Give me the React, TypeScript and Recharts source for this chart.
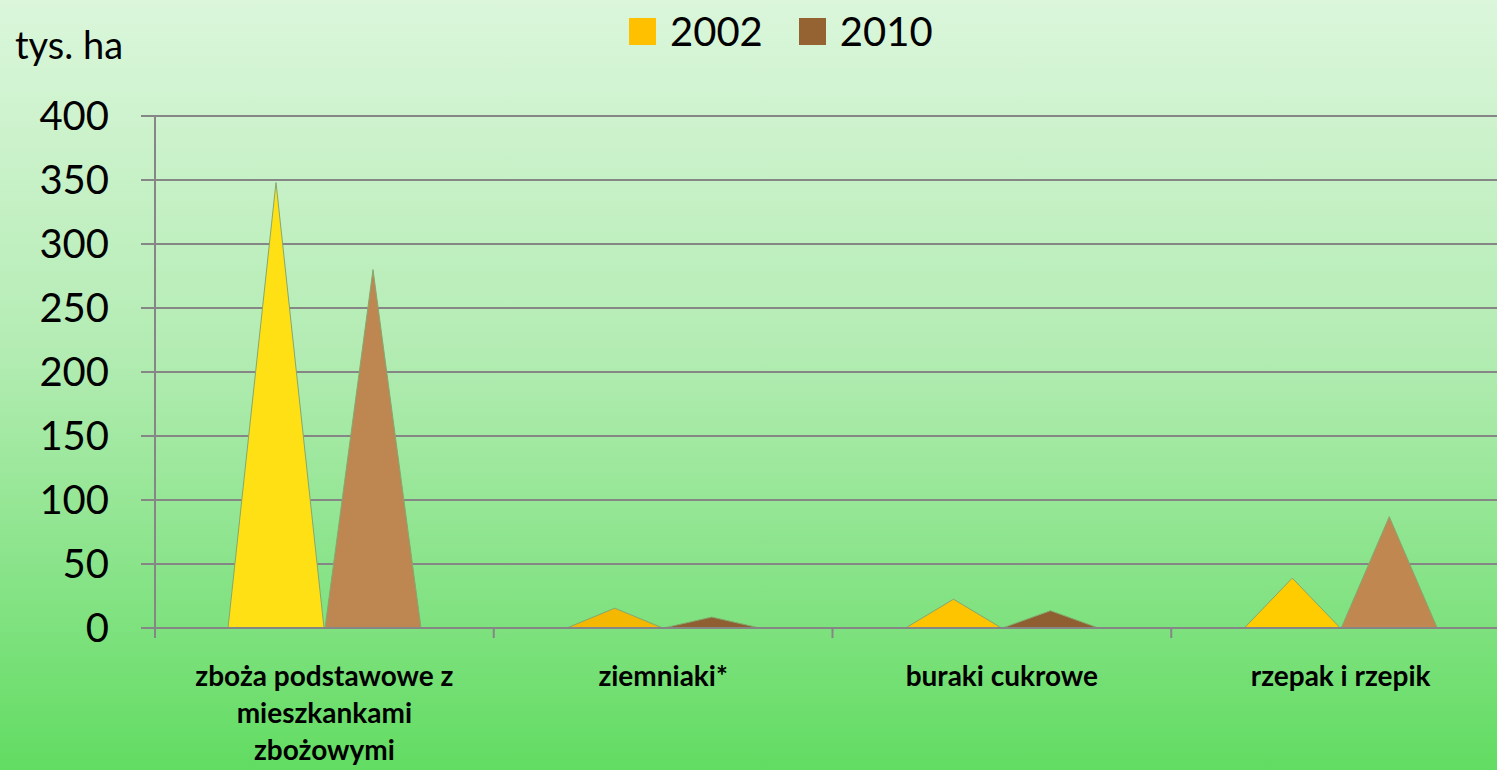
import { BarChart, Bar, XAxis, YAxis, CartesianGrid, Cell } from 'recharts'

const categories = ['zboża podstawowe z\nmieszkankami\nzbożowymi', 'ziemniaki*', 'buraki cukrowe', 'rzepak i rzepik']
const values2002 = [348, 15.5, 22.5, 39]
const values2010 = [280, 8.5, 13.5, 87]
const colors2002 = ['#FFE014', '#F5B800', '#FFC400', '#FFCC00']
const colors2010 = ['#BE8650', '#8F5F31', '#8F5F31', '#C08850']
const yTicks = [0, 50, 100, 150, 200, 250, 300, 350, 400]
const seriesNames = ['2002', '2010']
const legendColors = ['#FFC000', '#956232']

const data = categories.map((name, i) => ({ name, y2002: values2002[i], y2010: values2010[i] }))

const CHART_W = 1510
const CHART_H = 770
const AXIS_W = 155
const TOP = 116
const X_AXIS_H = 142
const AXIS_Y = CHART_H - X_AXIS_H
const BAND = (CHART_W - AXIS_W) / categories.length
const GRID = '#868686'

function Triangle(props: any) {
  const { x, y, width, height, fill } = props
  if (!height) return null
  const d = `M${x},${y + height} L${x + width / 2},${y} L${x + width},${y + height} Z`
  return <path d={d} fill={fill} stroke="#84a86e" strokeWidth={1} />
}

function CategoryTick(props: any) {
  const { x, payload } = props
  const left = x - BAND / 2
  const lines = String(payload.value).split('\n')
  return (
    <g>
      <line x1={left} y1={AXIS_Y} x2={left} y2={AXIS_Y + 10} stroke={GRID} strokeWidth={2} />
      <text
        x={x}
        y={AXIS_Y + 58}
        textAnchor="middle"
        style={{ fontFamily: 'Lato', fontWeight: 700, fontSize: 28, fill: '#000' }}
      >
        {lines.map((l, i) => (
          <tspan key={i} x={x} dy={i === 0 ? 0 : 37}>
            {l}
          </tspan>
        ))}
      </text>
    </g>
  )
}

function LegendBox() {
  return (
    <div
      style={{
        position: 'absolute',
        left: 629,
        top: 11,
        display: 'flex',
        alignItems: 'center',
        fontFamily: 'Lato',
        fontSize: 40,
        color: '#000',
      }}
    >
      {seriesNames.map((s, i) => (
        <div key={s} style={{ display: 'flex', alignItems: 'center', marginRight: 36 }}>
          <span style={{ width: 27, height: 27, background: legendColors[i], display: 'inline-block', marginRight: 14 }} />
          <span style={{ lineHeight: '40px' }}>{s}</span>
        </div>
      ))}
    </div>
  )
}

export default function App() {
  return (
    <div
      style={{
        position: 'absolute',
        left: 0,
        top: 0,
        width: 1497,
        height: 770,
        overflow: 'hidden',
        background: 'linear-gradient(to bottom, #dbf6db 0%, #b4ecb4 45%, #62dc62 100%)',
      }}
    >
      <div style={{ position: 'absolute', left: 15, top: 21, fontFamily: 'Lato', fontSize: 38, color: '#000' }}>
        tys. ha
      </div>
      <LegendBox />
      <div style={{ position: 'absolute', left: 0, top: 0 }}>
        <BarChart
          width={CHART_W}
          height={CHART_H}
          data={data}
          margin={{ top: TOP, right: 0, bottom: 0, left: 0 }}
          barSize={96}
          barGap={1}
        >
          <CartesianGrid vertical={false} stroke={GRID} strokeWidth={2} />
          <XAxis
            dataKey="name"
            interval={0}
            axisLine={{ stroke: GRID, strokeWidth: 2 }}
            tickLine={false}
            tick={<CategoryTick />}
            height={X_AXIS_H}
          />
          <YAxis
            domain={[0, 400]}
            ticks={yTicks}
            interval={0}
            width={AXIS_W}
            axisLine={{ stroke: GRID, strokeWidth: 2 }}
            tickLine={{ stroke: GRID, strokeWidth: 2 }}
            tickSize={14}
            tickMargin={32}
            tick={{ fontFamily: 'Lato', fontSize: 40, fill: '#000' }}
          />
          <Bar dataKey="y2002" name="2002" shape={<Triangle />} isAnimationActive={false}>
            {data.map((_, i) => (
              <Cell key={i} fill={colors2002[i]} />
            ))}
          </Bar>
          <Bar dataKey="y2010" name="2010" shape={<Triangle />} isAnimationActive={false}>
            {data.map((_, i) => (
              <Cell key={i} fill={colors2010[i]} />
            ))}
          </Bar>
        </BarChart>
      </div>
    </div>
  )
}
